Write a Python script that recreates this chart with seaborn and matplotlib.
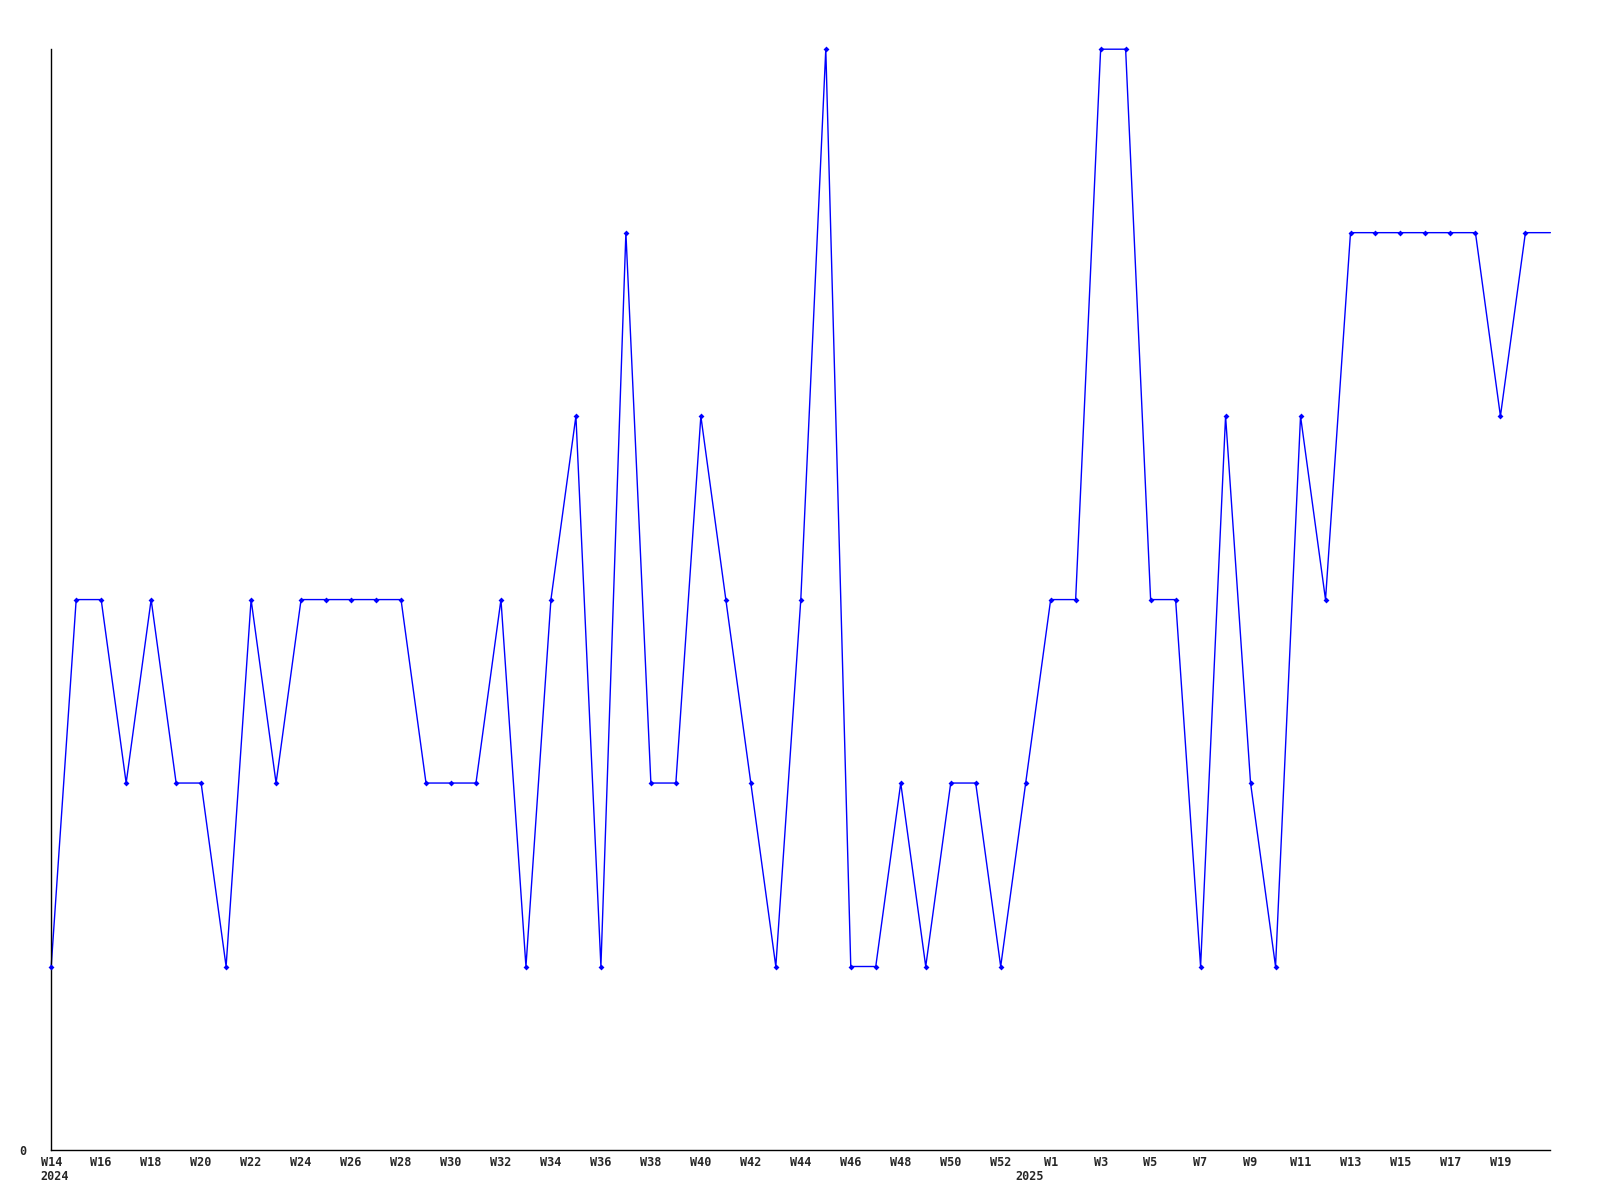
import pandas as pd
import matplotlib
matplotlib.use('Agg')
import matplotlib.pyplot as plt
import matplotlib.transforms as mtransforms
import seaborn as sns

# Weekly values, W14 2024 .. W21 2025 (2024 has a W53 here)
weeks_2024 = ['W%d' % w for w in range(14, 54)]
weeks_2025 = ['W%d' % w for w in range(1, 22)]
weeks = weeks_2024 + weeks_2025

values = [1, 3, 3, 2, 3, 2, 2, 1, 3, 2,   # W14-W23
          3, 3, 3, 3, 3, 2, 2, 2, 3, 1,   # W24-W33
          3, 4, 1, 5, 2, 2, 4, 3, 2, 1,   # W34-W43
          3, 6, 1, 1, 2, 1, 2, 2, 1, 2,   # W44-W53
          3, 3, 6, 6, 3, 3, 1, 4, 2, 1,   # W1-W10 2025
          4, 3, 5, 5, 5, 5, 5, 5, 4, 5,   # W11-W20
          5]                              # W21 (current week, no marker)

tick_labels = ['W%d' % w for w in range(14, 53, 2)] + ['W%d' % w for w in range(1, 20, 2)]
tick_pos = list(range(0, 39, 2)) + list(range(40, 59, 2))

year_labels = ['2024', '2025']
year_pos = [0.15, 39.15]

df = pd.DataFrame({'idx': range(len(weeks)), 'week': weeks, 'value': values})

sns.set_style('white')
plt.rcParams['font.family'] = ['DejaVu Sans Mono']

fig = plt.figure(figsize=(16, 12), dpi=100)
ax = fig.add_axes([0.032, 0.0417, 0.937, 0.9173])

sns.lineplot(data=df, x='idx', y='value', color='#0000ff', linewidth=1, ax=ax, clip_on=False)
sns.scatterplot(data=df.iloc[:-1], x='idx', y='value', color='#0000ff', marker='D',
                s=9, linewidth=0, ax=ax, clip_on=False, zorder=3)

ax.set_xlim(0, len(weeks) - 1)
ax.set_ylim(0, 6)
ax.set_xlabel('')
ax.set_ylabel('')

ax.set_xticks(tick_pos)
ax.set_xticklabels(tick_labels, fontsize=8.5, fontweight='bold')
ax.set_yticks([0])
ax.set_yticklabels(['0'], fontsize=8.5, fontweight='bold')
ax.tick_params(axis='x', length=0, pad=4)
ax.tick_params(axis='y', length=0, pad=18)

trans = mtransforms.blended_transform_factory(ax.transData, ax.transAxes)
for x, lab in zip(year_pos, year_labels):
    ax.annotate(lab, xy=(x, 0), xycoords=trans, xytext=(0, -19), textcoords='offset points',
                ha='center', va='center', fontsize=8.5, fontweight='bold', annotation_clip=False)

for side in ['top', 'right']:
    ax.spines[side].set_visible(False)
for side in ['left', 'bottom']:
    ax.spines[side].set_color('black')
    ax.spines[side].set_linewidth(1)

fig.savefig('out.png', dpi=100, facecolor='white')
